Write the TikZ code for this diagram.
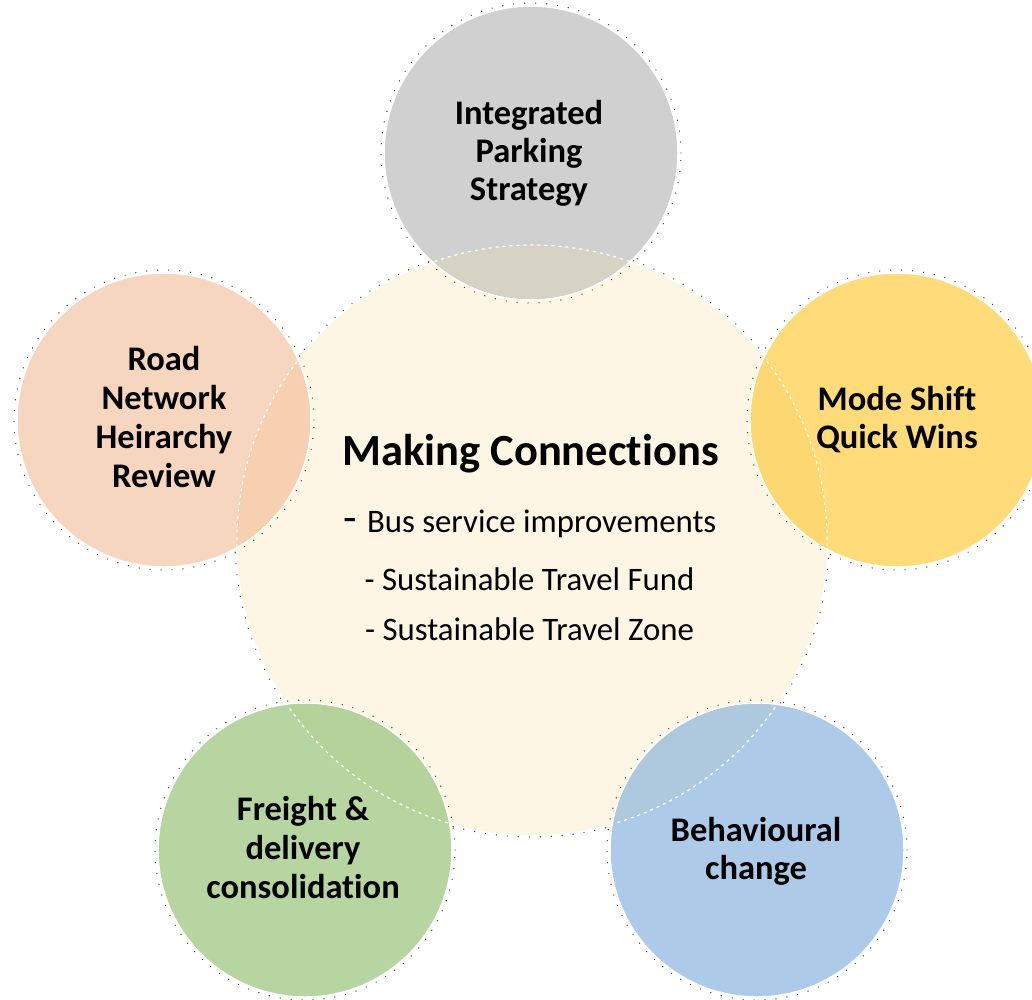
\documentclass[tikz,border=0pt]{standalone}
\usepackage{fontspec}
\setmainfont{Carlito}[Ligatures=NoCommon]
\begin{document}
\begin{tikzpicture}[x=1pt,y=-1pt,
  bubble/.style={circle, minimum size=294pt, inner sep=0pt, draw=white, line width=1.5pt},
  hubring/.style={white, line width=1.2pt, dash pattern=on 3pt off 4pt},
  dotring/.style={black!75, line width=1.4pt, line cap=round, dash pattern=on 0pt off 11pt},
  outer/.style={font=\fontsize{34.5}{38}\selectfont\bfseries, anchor=base, inner sep=0pt},
  sub/.style={font=\fontsize{32.8}{38}\selectfont, anchor=base, inner sep=0pt}]
\definecolor{cream}{HTML}{FEF6E4}
\definecolor{cgray}{HTML}{D0D0D0}
\definecolor{corange}{HTML}{F7D6BF}
\definecolor{cyellow}{HTML}{FFDB7A}
\definecolor{cgreen}{HTML}{B7D5A1}
\definecolor{cblue}{HTML}{ADCBE9}
\definecolor{ogray}{HTML}{D6D3C4}
\definecolor{oorange}{HTML}{F6D0B0}
\definecolor{oyellow}{HTML}{FDD771}
\definecolor{ogreen}{HTML}{B5D29A}
\definecolor{oblue}{HTML}{AEC9DD}
\useasboundingbox (0,0) rectangle (1032,999);
% hub
\node[circle, fill=cream, minimum size=590pt, inner sep=0pt] (hub) at (532,540) {};
\draw[dotring] (532,540) circle[radius=297pt];
% outer circles
\node[bubble, fill=cgray] (top) at (531,153) {};
\node[bubble, fill=corange] (left) at (164,420) {};
\node[bubble, fill=cyellow] (right) at (897,420) {};
\node[bubble, fill=cgreen] (bl) at (305,850) {};
\node[bubble, fill=cblue] (br) at (757,850) {};
% overlaps
\begin{scope}\clip (531,153) circle[radius=146pt]; \fill[ogray] (532,540) circle[radius=295pt]; \draw[hubring] (532,540) circle[radius=295pt];\end{scope}
\begin{scope}\clip (164,420) circle[radius=146pt]; \fill[oorange] (532,540) circle[radius=295pt]; \draw[hubring] (532,540) circle[radius=295pt];\end{scope}
\begin{scope}\clip (897,420) circle[radius=146pt]; \fill[oyellow] (532,540) circle[radius=295pt]; \draw[hubring] (532,540) circle[radius=295pt];\end{scope}
\begin{scope}\clip (305,850) circle[radius=146pt]; \fill[ogreen] (532,540) circle[radius=295pt]; \draw[hubring] (532,540) circle[radius=295pt];\end{scope}
\begin{scope}\clip (757,850) circle[radius=146pt]; \fill[oblue] (532,540) circle[radius=295pt]; \draw[hubring] (532,540) circle[radius=295pt];\end{scope}
% dotted rims
\draw[dotring] (531,153) circle[radius=150pt];
\draw[dotring] (164,420) circle[radius=150pt];
\draw[dotring] (897,420) circle[radius=150pt];
\draw[dotring] (305,850) circle[radius=150pt];
\draw[dotring] (757,850) circle[radius=150pt];
% labels
\node[outer] (t1) at (529,124) {Integrated};
\node[outer] (t2) at (529,162) {Parking};
\node[outer] (t3) at (529,200) {Strategy};
\node[outer] (l1) at (164,370) {Road};
\node[outer] (l2) at (164,409) {Network};
\node[outer] (l3) at (164,448) {Heirarchy};
\node[outer] (l4) at (164,487) {Review};
\node[outer] (r1) at (897,410) {Mode Shift};
\node[outer] (r2) at (897,448) {Quick Wins};
\node[outer] (g1) at (303,820) {Freight \&};
\node[outer] (g2) at (303,859) {delivery};
\node[outer] (g3) at (303,898) {consolidation};
\node[outer] (b1) at (756,841) {Behavioural};
\node[outer] (b2) at (756,879) {change};
% hub text
\node[font=\fontsize{44.5}{50}\selectfont\bfseries, anchor=base, inner sep=0pt] (title) at (530.5,465) {Making Connections};
\node[sub] (bus) at (530,532) {{\fontsize{44}{50}\selectfont -}\hspace{0.3em}Bus service improvements};
\node[sub] (fund) at (529.5,590) {- Sustainable Travel Fund};
\node[sub] (zone) at (529.5,640) {- Sustainable Travel Zone};
\end{tikzpicture}
\end{document}
